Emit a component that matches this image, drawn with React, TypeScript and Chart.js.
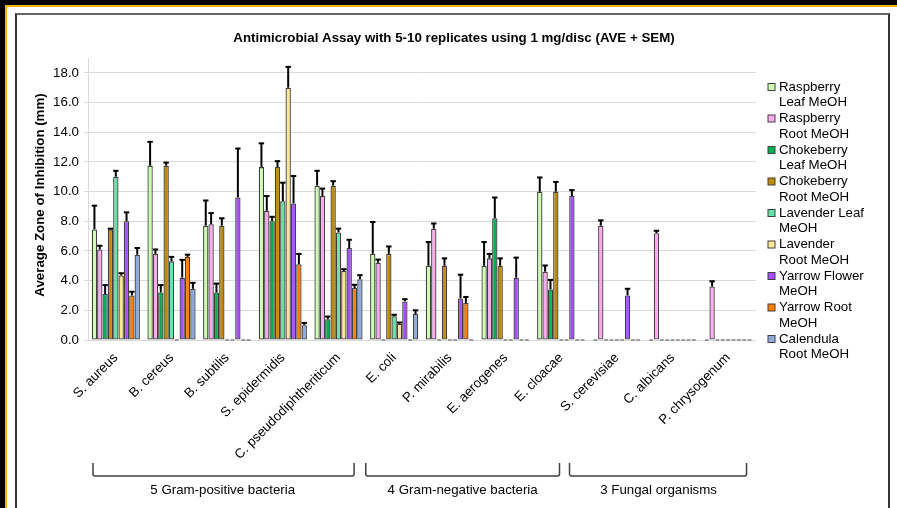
import React, { useEffect, useRef } from 'react';
import { Chart, registerables } from 'chart.js';

Chart.register(...registerables);

// ---------------- DATA ----------------
const categories = [
  'S. aureus',
  'B. cereus',
  'B. subtilis',
  'S. epidermidis',
  'C. pseudodiphtheriticum',
  'E. coli',
  'P. mirabilis',
  'E. aerogenes',
  'E. cloacae',
  'S. cerevisiae',
  'C. albicans',
  'P. chrysogenum',
];

const seriesNames = [
  'Raspberry Leaf MeOH',
  'Raspberry Root MeOH',
  'Chokeberry Leaf MeOH',
  'Chokeberry Root MeOH',
  'Lavender Leaf MeOH',
  'Lavender Root MeOH',
  'Yarrow Flower MeOH',
  'Yarrow Root MeOH',
  'Calendula Root MeOH',
];

// legend lines (as wrapped in the reference)
const legendLines = [
  ['Raspberry', 'Leaf MeOH'],
  ['Raspberry', 'Root MeOH'],
  ['Chokeberry', 'Leaf MeOH'],
  ['Chokeberry', 'Root MeOH'],
  ['Lavender Leaf', 'MeOH'],
  ['Lavender', 'Root MeOH'],
  ['Yarrow Flower', 'MeOH'],
  ['Yarrow Root', 'MeOH'],
  ['Calendula', 'Root MeOH'],
];

const seriesColors = [
  '#ccffb0',
  '#ffaaef',
  '#00b050',
  '#bf8a00',
  '#66e3a5',
  '#ffe699',
  '#a64dff',
  '#ff7c00',
  '#8ea9db',
];

const raspberryLeaf = [7.45, 11.75, 7.7, 11.65, 10.4, 5.8, 5.0, 5.0, 10.0, 0, 0, 0];
const raspberryLeafSem = [1.6, 1.6, 1.7, 1.6, 1.0, 2.15, 1.6, 1.6, 0.95, 0, 0, 0];
const raspberryRoot = [6.1, 5.8, 7.8, 8.7, 9.7, 5.2, 7.5, 5.5, 4.6, 7.7, 7.2, 3.6];
const raspberryRootSem = [0.25, 0.3, 0.75, 1.0, 0.5, 0.22, 0.35, 0.3, 0.42, 0.36, 0.16, 0.36];
const chokeberryLeaf = [3.1, 3.2, 3.2, 8.0, 1.4, 0, 0, 8.2, 3.4, 0, 0, 0];
const chokeberryLeafSem = [0.6, 0.5, 0.6, 0.3, 0.18, 0, 0, 1.4, 0.65, 0, 0, 0];
const chokeberryRoot = [7.45, 11.75, 7.7, 11.65, 10.4, 5.8, 5.0, 5.0, 10.0, 0, 0, 0];
const chokeberryRootSem = [0.05, 0.2, 0.5, 0.4, 0.3, 0.5, 0.5, 0.5, 0.65, 0, 0, 0];
const lavenderLeaf = [11.0, 5.3, 0, 9.35, 7.25, 1.6, 0, 0, 0, 0, 0, 0];
const lavenderLeafSem = [0.4, 0.3, 0, 1.25, 0.25, 0.1, 0, 0, 0, 0, 0, 0];
const lavenderRoot = [4.35, 0, 0, 17.0, 4.65, 1.1, 0, 0, 0, 0, 0, 0];
const lavenderRootSem = [0.15, 0, 0, 1.4, 0.12, 0.08, 0, 0, 0, 0, 0, 0];
const yarrowFlower = [8.0, 4.2, 9.6, 9.2, 6.2, 2.6, 2.8, 4.2, 9.7, 3.0, 0, 0];
const yarrowFlowerSem = [0.6, 1.2, 3.3, 1.85, 0.55, 0.15, 1.6, 1.35, 0.4, 0.45, 0, 0];
const yarrowRoot = [3.0, 5.6, 0, 5.1, 3.5, 0, 2.5, 0, 0, 0, 0, 0];
const yarrowRootSem = [0.25, 0.15, 0, 0.7, 0.22, 0, 0.4, 0, 0, 0, 0, 0];
const calendulaRoot = [5.75, 3.45, 0, 1.0, 4.1, 1.75, 0, 0, 0, 0, 0, 0];
const calendulaRootSem = [0.45, 0.4, 0, 0.15, 0.27, 0.25, 0, 0, 0, 0, 0, 0];

const seriesValues = [
  raspberryLeaf, raspberryRoot, chokeberryLeaf, chokeberryRoot, lavenderLeaf,
  lavenderRoot, yarrowFlower, yarrowRoot, calendulaRoot,
];
const seriesSems = [
  raspberryLeafSem, raspberryRootSem, chokeberryLeafSem, chokeberryRootSem, lavenderLeafSem,
  lavenderRootSem, yarrowFlowerSem, yarrowRootSem, calendulaRootSem,
];

const groupLabels = ['5 Gram-positive bacteria', '4 Gram-negative bacteria', '3 Fungal organisms'];
// bracket spans in category-index units [start, end, labelCenter]
const groupSpans = [
  [-0.41, 4.28, 1.92],
  [4.49, 7.97, 6.23],
  [8.15, 11.33, 9.75],
];

const titleText = 'Antimicrobial Assay with 5-10 replicates using 1 mg/disc (AVE + SEM)';
const yTitleText = 'Average Zone of Inhibition (mm)';

const FONT = '"Liberation Sans", Arial, Helvetica, sans-serif';
const FS = 13.3;

const overlayPlugin = {
  id: 'overlay',
  afterDatasetsDraw(chart: any) {
    const ctx: CanvasRenderingContext2D = chart.ctx;
    const ys = chart.scales.y;
    const base = ys.getPixelForValue(0);
    ctx.save();
    chart.data.datasets.forEach((ds: any, i: number) => {
      const meta = chart.getDatasetMeta(i);
      meta.data.forEach((bar: any, j: number) => {
        const v = ds.data[j];
        const s = ds.sem[j];
        const w = bar.width;
        if (!v) {
          ctx.strokeStyle = '#808080';
          ctx.lineWidth = 1.5;
          ctx.beginPath();
          ctx.moveTo(bar.x - w / 2 + 0.8, base);
          ctx.lineTo(bar.x + w / 2 - 0.8, base);
          ctx.stroke();
        } else if (s > 0) {
          const y0 = ys.getPixelForValue(v);
          const y1 = ys.getPixelForValue(v + s);
          ctx.strokeStyle = '#000';
          ctx.lineWidth = 2;
          ctx.beginPath();
          ctx.moveTo(bar.x, y0);
          ctx.lineTo(bar.x, y1);
          ctx.stroke();
          ctx.beginPath();
          ctx.moveTo(bar.x - 2.7, y1);
          ctx.lineTo(bar.x + 2.7, y1);
          ctx.stroke();
        }
      });
    });
    ctx.restore();
  },
  afterDraw(chart: any) {
    const ctx: CanvasRenderingContext2D = chart.ctx;
    const xs = chart.scales.x;
    const area = chart.chartArea;
    ctx.save();
    ctx.fillStyle = '#000';

    // Title
    ctx.font = `bold ${FS}px ${FONT}`;
    ctx.textAlign = 'center';
    ctx.textBaseline = 'middle';
    ctx.fillText(titleText, 454, 38);

    // Y-axis title
    ctx.save();
    ctx.translate(40, 195);
    ctx.rotate(-Math.PI / 2);
    ctx.fillText(yTitleText, 0, 0);
    ctx.restore();

    // Legend
    ctx.font = `${FS}px ${FONT}`;
    ctx.textAlign = 'left';
    legendLines.forEach((lines, i) => {
      const cy = area.top + 29 + i * 31.5;
      ctx.fillStyle = seriesColors[i];
      ctx.fillRect(768, cy - 3.5, 7, 7);
      ctx.strokeStyle = '#404040';
      ctx.lineWidth = 1;
      ctx.strokeRect(768, cy - 3.5, 7, 7);
      ctx.fillStyle = '#000';
      lines.forEach((ln, k) => ctx.fillText(ln, 779, cy + k * 15.7));
    });

    // Group brackets
    const cw = xs.getPixelForValue(1) - xs.getPixelForValue(0);
    const c0 = xs.getPixelForValue(0);
    const px = (u: number) => c0 + u * cw;
    const top = area.bottom + 123;
    const bot = area.bottom + 136;
    ctx.strokeStyle = '#404040';
    ctx.lineWidth = 1.5;
    groupSpans.forEach(([a, b, c], gi) => {
      const x0 = px(a);
      const x1 = px(b);
      ctx.beginPath();
      ctx.moveTo(x0, top);
      ctx.lineTo(x0, bot - 2);
      ctx.quadraticCurveTo(x0, bot, x0 + 2, bot);
      ctx.lineTo(x1 - 2, bot);
      ctx.quadraticCurveTo(x1, bot, x1, bot - 2);
      ctx.lineTo(x1, top);
      ctx.stroke();
      ctx.fillStyle = '#000';
      ctx.textAlign = 'center';
      ctx.fillText(groupLabels[gi], px(c), area.bottom + 150);
    });
    ctx.restore();
  },
};

export default function App() {
  const ref = useRef<HTMLCanvasElement | null>(null);

  useEffect(() => {
    document.body.style.margin = '0';
    const canvas = ref.current;
    if (!canvas) return;
    const chart = new Chart(canvas, {
      type: 'bar',
      data: {
        labels: categories,
        datasets: seriesNames.map((name, i) => ({
          label: name,
          data: seriesValues[i],
          sem: seriesSems[i],
          backgroundColor: seriesColors[i],
          borderColor: '#404040',
          borderWidth: 1.3,
          borderSkipped: false,
          barPercentage: 1.0,
          categoryPercentage: 0.865,
        })) as any,
      },
      options: {
        responsive: false,
        animation: false,
        devicePixelRatio: 1,
        layout: { padding: { top: 58, left: 0, right: 141, bottom: 0 } },
        plugins: {
          legend: { display: false },
          title: { display: false },
          tooltip: { enabled: false },
        },
        scales: {
          x: {
            grid: { display: false, drawTicks: false },
            border: { display: false },
            ticks: {
              color: '#000',
              font: { family: FONT, size: FS },
              minRotation: 45,
              maxRotation: 45,
              autoSkip: false,
              padding: 10,
            },
            afterFit: (scale: any) => {
              scale.height = 168;
            },
          },
          y: {
            min: 0,
            max: 19,
            grid: { color: '#d9d9d9', lineWidth: 1, tickLength: 4, drawTicks: true },
            border: { display: true, color: '#d9d9d9', width: 1 },
            ticks: {
              stepSize: 2,
              includeBounds: false,
              color: '#000',
              font: { family: FONT, size: FS },
              padding: 5,
              callback: (v: any) => Number(v).toFixed(1),
            },
            afterFit: (scale: any) => {
              scale.width = 88;
            },
          },
        },
      } as any,
      plugins: [overlayPlugin],
    });
    return () => chart.destroy();
  }, []);

  return (
    <div style={{ position: 'relative', width: 897, height: 508, overflow: 'hidden', background: '#fff' }}>
      <div style={{ position: 'absolute', left: 0, top: 0, width: 897, height: 5, background: '#000' }} />
      <div style={{ position: 'absolute', left: 0, top: 5, width: 897, height: 2, background: '#f2b300' }} />
      <div style={{ position: 'absolute', left: 0, top: 0, width: 5, height: 508, background: '#000' }} />
      <div style={{ position: 'absolute', left: 5, top: 5, width: 2, height: 503, background: '#f2b300' }} />
      <div
        style={{
          position: 'absolute',
          left: 15,
          top: 13,
          width: 871,
          height: 520,
          borderLeft: '2px solid #333',
          borderRight: '2px solid #333',
          borderTop: '2px solid #666',
        }}
      />
      <canvas ref={ref} width={897} height={508} style={{ position: 'absolute', left: 0, top: 0 }} />
    </div>
  );
}
